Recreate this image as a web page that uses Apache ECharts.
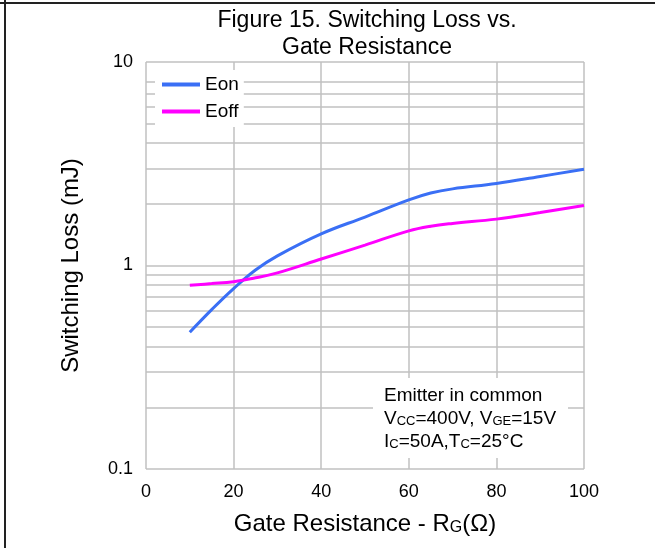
<!DOCTYPE html>
<html>
<head>
<meta charset="utf-8">
<script src="https://cdn.jsdelivr.net/npm/echarts@6/dist/echarts.min.js"></script>
<style>
html,body{margin:0;padding:0;background:#fff;}
#chart{width:655px;height:548px;}
</style>
</head>
<body>
<div id="chart"></div>
<script>
var gateR = [10, 15, 20, 25, 30, 40, 50, 60, 65, 70, 80, 90, 100];
var eon = [0.47, 0.607, 0.77, 0.95, 1.115, 1.43, 1.73, 2.1, 2.27, 2.38, 2.53, 2.74, 2.97];
var eoff = [0.80, 0.815, 0.833, 0.87, 0.92, 1.076, 1.26, 1.48, 1.56, 1.61, 1.69, 1.82, 1.97];
var yTicks = [0.1, 1, 10];
var xTicks = [0, 20, 40, 60, 80, 100];
var minorGrid = [0.2, 0.3, 0.4, 0.5, 0.6, 0.7, 0.8, 0.9, 2, 3, 4, 5, 6, 7, 8];

var FONT = '"Liberation Sans", Arial, sans-serif';
var GRID = '#c0c0c0';

var chart = echarts.init(document.getElementById('chart'), null, {renderer: 'canvas'});

function pairs(xs, ys) { return xs.map(function (x, i) { return [x, ys[i]]; }); }

chart.setOption({
  animation: false,
  backgroundColor: '#fff',
  title: {
    text: 'Figure 15. Switching Loss vs.\nGate Resistance',
    left: 362,
    top: 2,
    textAlign: 'center',
    textStyle: {fontFamily: FONT, fontSize: 23, fontWeight: 'normal', color: '#000', lineHeight: 27}
  },
  grid: {left: 146, right: 71, top: 62, bottom: 79},
  legend: {
    orient: 'vertical',
    left: 155,
    top: 70,
    padding: [4, 5, 5, 7],
    itemGap: 6,
    itemWidth: 38,
    itemHeight: 4,
    backgroundColor: '#fff',
    icon: 'rect',
    textStyle: {fontFamily: FONT, fontSize: 19, color: '#000', lineHeight: 21},
    data: ['Eon', 'Eoff']
  },
  xAxis: {
    type: 'value',
    min: 0, max: 100, interval: 20,
    name: 'Gate Resistance - R{s|G}(Ω)',
    nameLocation: 'middle',
    nameGap: 43,
    nameTextStyle: {fontFamily: FONT, fontSize: 24, color: '#000',
      rich: {s: {fontFamily: FONT, fontSize: 16, color: '#000', verticalAlign: 'bottom', padding: [8, 0, 0, 0]}}},
    axisLine: {show: false},
    axisTick: {show: false},
    axisLabel: {fontFamily: FONT, fontSize: 18, color: '#000', margin: 14,
      formatter: function (v) { return xTicks.indexOf(v) >= 0 ? String(v) : ''; }},
    splitLine: {show: true, lineStyle: {color: GRID, width: 1.5}}
  },
  yAxis: {
    type: 'log',
    logBase: 10,
    min: yTicks[0], max: yTicks[yTicks.length - 1],
    name: 'Switching Loss (mJ)',
    nameLocation: 'middle',
    nameGap: 63,
    nameTextStyle: {fontFamily: FONT, fontSize: 24, color: '#000'},
    axisLine: {show: false},
    axisTick: {show: false},
    axisLabel: {fontFamily: FONT, fontSize: 18, color: '#000', margin: 13,
      formatter: function (v) { return v >= 9.99 ? '10' : (v >= 0.999 ? '1' : '0.1'); }},
    splitLine: {show: true, lineStyle: {color: GRID, width: 1.5}}
  },
  series: [
    {
      name: 'Eon', type: 'line', smooth: 0.4, symbol: 'none',
      data: pairs(gateR, eon),
      lineStyle: {color: '#3a6ff5', width: 3},
      itemStyle: {color: '#3a6ff5'},
      z: 5,
      markLine: {
        silent: true, symbol: 'none', label: {show: false},
        lineStyle: {color: GRID, width: 1.5, type: 'solid'},
        data: minorGrid.map(function (v) { return {yAxis: v}; }),
        z: 1
      }
    },
    {
      name: 'Eoff', type: 'line', smooth: 0.4, symbol: 'none',
      data: pairs(gateR, eoff),
      lineStyle: {color: '#ff00ff', width: 3},
      itemStyle: {color: '#ff00ff'},
      z: 5
    }
  ],
  graphic: [
    {type: 'line', z: 100, shape: {x1: 0, y1: 3, x2: 655, y2: 3}, style: {stroke: '#222', lineWidth: 2}},
    {type: 'line', z: 100, shape: {x1: 5, y1: 0, x2: 5, y2: 548}, style: {stroke: '#222', lineWidth: 2}},
    {type: 'rect', z: 100, x: 373, y: 378, shape: {x: 0, y: 0, width: 195, height: 80}, style: {fill: '#ffffff', stroke: null}},
    {
      type: 'text', z: 101, x: 384, y: 383,
      style: {
        text: '{n|Emitter in common}\n{n|V}{s|CC}{n|=400V, V}{s|GE}{n|=15V}\n{n|I}{s|C}{n|=50A,T}{s|C}{n|=25°C}',
        font: '19px ' + FONT,
        fill: '#000',
        rich: {
          n: {fontFamily: FONT, fontSize: 19, color: '#000', lineHeight: 22.7, verticalAlign: 'bottom'},
          s: {fontFamily: FONT, fontSize: 13, color: '#000', lineHeight: 22.7, verticalAlign: 'bottom'}
        }
      }
    }
  ]
});
</script>
</body>
</html>
